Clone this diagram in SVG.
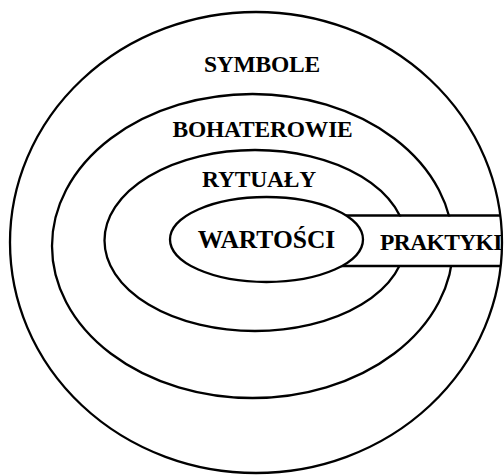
<svg xmlns="http://www.w3.org/2000/svg" width="504" height="476" viewBox="0 0 504 476">
<style>
.ring{fill:none;stroke:#000;stroke-width:2.3}
.core{fill:#fff;stroke:#000;stroke-width:2.3}
.band{stroke:#000;stroke-width:2.3;fill:none}
.lbl{font-family:"Liberation Serif","Times New Roman",serif;font-weight:bold;font-size:23.5px;fill:#000;text-anchor:middle;letter-spacing:-0.2px}
.big{font-size:25.5px;letter-spacing:0}
.pk{font-size:23.5px;letter-spacing:-0.6px}
</style>
<rect width="504" height="476" fill="#fff"/>
<g id="symbole">
<ellipse class="ring" cx="256" cy="242.5" rx="246" ry="230.5"/>
<text class="lbl" x="262" y="72">SYMBOLE</text>
</g>
<g id="bohaterowie">
<ellipse class="ring" cx="252.5" cy="246" rx="200.5" ry="152"/>
<text class="lbl" x="262.5" y="137">BOHATEROWIE</text>
</g>
<g id="rytualy">
<ellipse class="ring" cx="255" cy="240.5" rx="150.5" ry="90.5"/>
<text class="lbl" x="259" y="187">RYTUAŁY</text>
</g>
<g id="praktyki">
<rect x="340" y="216.5" width="157" height="48.5" fill="#fff"/>
<line class="band" x1="340" y1="215.5" x2="500.5" y2="215.5"/>
<line class="band" x1="340" y1="266" x2="500.5" y2="266"/>
<text class="lbl pk" x="380" y="250" style="text-anchor:start">PRAKTYKI</text>
</g>
<g id="wartosci">
<ellipse class="core" cx="266.5" cy="239.5" rx="96.5" ry="42.5"/>
<text class="lbl big" x="266.5" y="248">WARTOŚCI</text>
</g>
<g id="connectors"></g>
</svg>
